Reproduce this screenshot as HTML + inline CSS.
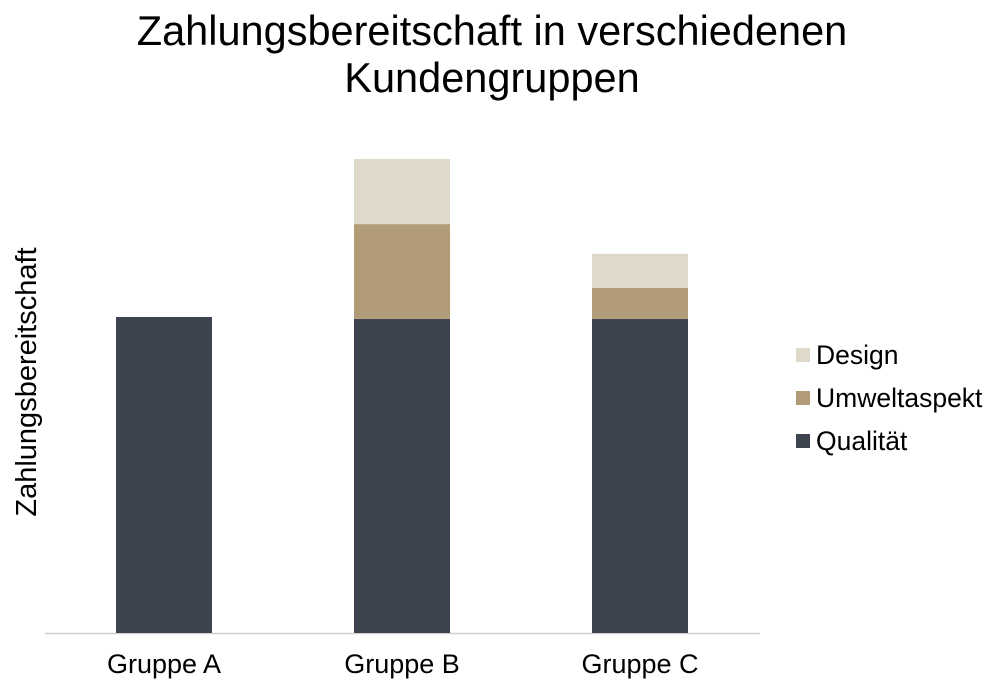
<!DOCTYPE html>
<html><head><meta charset="utf-8"><style>
body{margin:0;background:#fff;width:996px;height:695px;overflow:hidden;font-family:"Liberation Sans",Arial,sans-serif}
</style></head><body>
<svg id="chart" width="996" height="695" xmlns="http://www.w3.org/2000/svg">
<text x="492" y="45" font-size="41.5" text-anchor="middle" fill="#000">Zahlungsbereitschaft in verschiedenen</text>
<text x="492" y="92" font-size="41.5" text-anchor="middle" fill="#000">Kundengruppen</text>
<text transform="translate(36,382) rotate(-90)" font-size="29" text-anchor="middle" fill="#000">Zahlungsbereitschaft</text>
<line x1="45" y1="633.5" x2="760" y2="633.5" stroke="#d0d0d0" stroke-width="1.5"/>
<g id="bars"></g>
<g id="labels"></g>
<g id="legend"></g>
</svg>
<script>
const categories = ["Gruppe A","Gruppe B","Gruppe C"];
const seriesNames = ["Qualität","Umweltaspekt","Design"];
const qualitaet = [100, 99.4, 99.4];
const umweltaspekt = [0, 30, 9.8];
const design = [0, 20.6, 10.8];
const colors = ["#3d4450","#b29c78","#dfd9c9"];
const series = [qualitaet, umweltaspekt, design];

const baseY = 633, pxPerUnit = 3.16, firstCenter = 164, step = 238, barW = 96;
const yPos = v => baseY - v * pxPerUnit;
const xCenter = i => firstCenter + i * step;
const NS = "http://www.w3.org/2000/svg";
const bars = document.getElementById("bars");
const labels = document.getElementById("labels");
const legend = document.getElementById("legend");

categories.forEach((c, i) => {
  let cum = 0;
  series.forEach((s, k) => {
    const v = s[i];
    if (v > 0) {
      const r = document.createElementNS(NS, "rect");
      r.setAttribute("x", xCenter(i) - barW / 2);
      r.setAttribute("y", yPos(cum + v));
      r.setAttribute("width", barW);
      r.setAttribute("height", yPos(cum) - yPos(cum + v));
      r.setAttribute("fill", colors[k]);
      
      
      bars.appendChild(r);
    }
    cum += v;
  });
  const t = document.createElementNS(NS, "text");
  t.setAttribute("x", xCenter(i));
  t.setAttribute("y", 673);
  t.setAttribute("font-size", "27");
  t.setAttribute("text-anchor", "middle");
  t.textContent = c;
  
  
  labels.appendChild(t);
});

const legendOrder = [2, 1, 0];
legendOrder.forEach((k, j) => {
  const y = 355 + j * 43;
  const g = document.createElementNS(NS, "g");
  
  
  const r = document.createElementNS(NS, "rect");
  r.setAttribute("x", 796); r.setAttribute("y", y - 7);
  r.setAttribute("width", 14); r.setAttribute("height", 14);
  r.setAttribute("fill", colors[k]);
  
  
  const t = document.createElementNS(NS, "text");
  t.setAttribute("x", 816); t.setAttribute("y", y + 9);
  t.setAttribute("font-size", "26.5");
  t.textContent = seriesNames[k];
  
  
  g.appendChild(r); g.appendChild(t);
  legend.appendChild(g);
});
</script>
</body></html>
